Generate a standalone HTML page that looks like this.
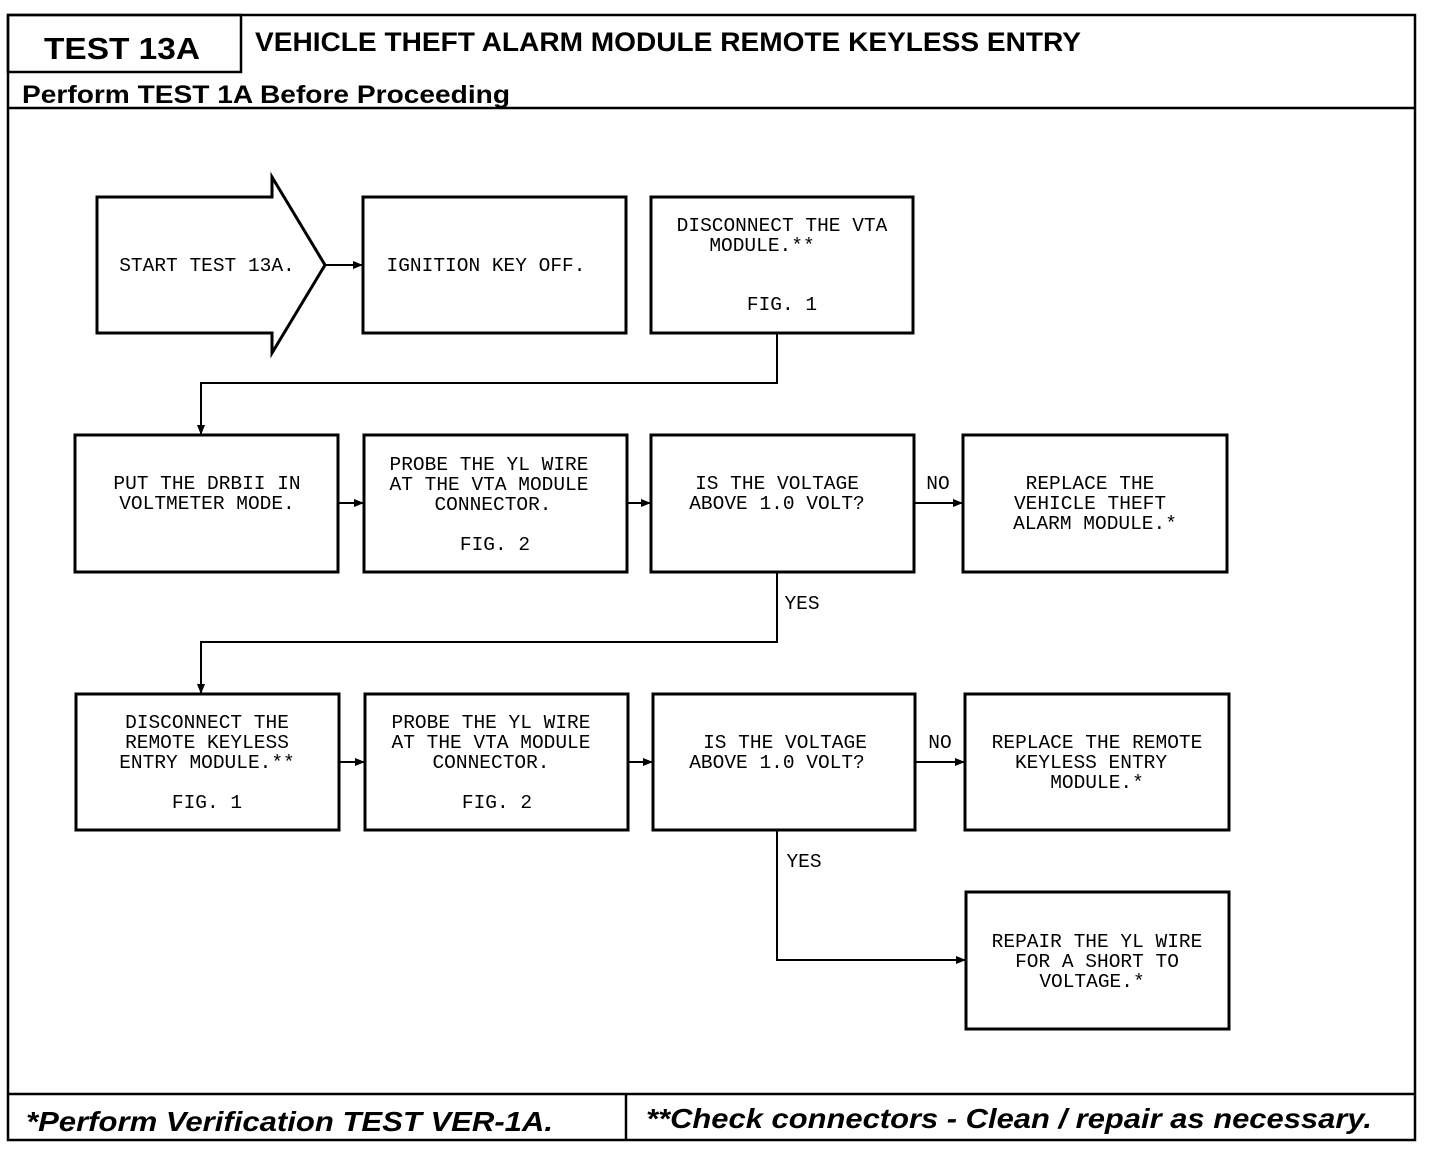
<!DOCTYPE html>
<html><head><meta charset="utf-8"><style>
html,body{margin:0;padding:0;background:#fff;}
svg{display:block;}
.t{font-family:"Liberation Mono",monospace;font-size:19.5px;fill:#000;text-anchor:middle;}
.h{font-family:"Liberation Sans",sans-serif;font-weight:bold;fill:#000;}
</style></head><body>
<svg width="1440" height="1156" viewBox="0 0 1440 1156" xmlns="http://www.w3.org/2000/svg">
<defs><marker id="a" markerWidth="10" markerHeight="10" refX="9" refY="5" orient="auto" markerUnits="userSpaceOnUse"><path d="M0,1 L10,5 L0,9 Z" fill="#000"/></marker></defs>
<g fill="none" stroke="#000" stroke-width="2.5">
<rect x="8" y="15" width="1407" height="1125"/>
<rect x="8" y="15" width="233" height="57"/>
<line x1="8" y1="108" x2="1415" y2="108"/>
<line x1="8" y1="1094" x2="1415" y2="1094"/>
<line x1="626" y1="1094" x2="626" y2="1140"/>
<path d="M97,197 H272 V177 L325,265 L272,353 V333 H97 Z" stroke-width="3"/>
<rect x="363" y="197" width="263" height="136" stroke-width="3"/>
<rect x="651" y="197" width="262" height="136" stroke-width="3"/>
<rect x="75" y="435" width="263" height="137" stroke-width="3"/>
<rect x="364" y="435" width="263" height="137" stroke-width="3"/>
<rect x="651" y="435" width="263" height="137" stroke-width="3"/>
<rect x="963" y="435" width="264" height="137" stroke-width="3"/>
<rect x="76" y="694" width="263" height="136" stroke-width="3"/>
<rect x="365" y="694" width="263" height="136" stroke-width="3"/>
<rect x="653" y="694" width="262" height="136" stroke-width="3"/>
<rect x="965" y="694" width="264" height="136" stroke-width="3"/>
<rect x="966" y="892" width="263" height="137" stroke-width="3"/>
<g stroke-width="2">
<line x1="325" y1="265" x2="362" y2="265" marker-end="url(#a)"/>
<polyline points="777,333 777,383 201,383 201,434" marker-end="url(#a)"/>
<line x1="338" y1="503" x2="363" y2="503" marker-end="url(#a)"/>
<line x1="627" y1="503" x2="650" y2="503" marker-end="url(#a)"/>
<line x1="914" y1="503" x2="962" y2="503" marker-end="url(#a)"/>
<polyline points="777,572 777,642 201,642 201,693" marker-end="url(#a)"/>
<line x1="339" y1="762" x2="364" y2="762" marker-end="url(#a)"/>
<line x1="628" y1="762" x2="652" y2="762" marker-end="url(#a)"/>
<line x1="915" y1="762" x2="964" y2="762" marker-end="url(#a)"/>
<polyline points="777,830 777,960 965,960" marker-end="url(#a)"/>
</g></g>
<text class="h" x="44" y="59" font-size="31" textLength="156" lengthAdjust="spacingAndGlyphs">TEST 13A</text>
<text class="h" x="255" y="51" font-size="27" textLength="826" lengthAdjust="spacingAndGlyphs">VEHICLE THEFT ALARM MODULE REMOTE KEYLESS ENTRY</text>
<text class="h" x="22" y="103" font-size="25" textLength="488" lengthAdjust="spacingAndGlyphs">Perform TEST 1A Before Proceeding</text>
<text class="h" x="26" y="1131" font-size="28" font-style="italic" textLength="527" lengthAdjust="spacingAndGlyphs">*Perform Verification TEST VER-1A.</text>
<text class="h" x="646" y="1128" font-size="28" font-style="italic" textLength="726" lengthAdjust="spacingAndGlyphs">**Check connectors - Clean / repair as necessary.</text>
<text class="t" x="207" y="271">START TEST 13A.</text>
<text class="t" x="486" y="271">IGNITION KEY OFF.</text>
<text class="t" x="782" y="231">DISCONNECT THE VTA</text>
<text class="t" x="762" y="251">MODULE.**</text>
<text class="t" x="782" y="310">FIG. 1</text>
<text class="t" x="207" y="489">PUT THE DRBII IN</text>
<text class="t" x="207" y="509">VOLTMETER MODE.</text>
<text class="t" x="489" y="470">PROBE THE YL WIRE</text>
<text class="t" x="489" y="490">AT THE VTA MODULE</text>
<text class="t" x="493" y="510">CONNECTOR.</text>
<text class="t" x="495" y="550">FIG. 2</text>
<text class="t" x="777" y="489">IS THE VOLTAGE</text>
<text class="t" x="777" y="509">ABOVE 1.0 VOLT?</text>
<text class="t" x="1090" y="489">REPLACE THE</text>
<text class="t" x="1090" y="509">VEHICLE THEFT</text>
<text class="t" x="1095" y="529">ALARM MODULE.*</text>
<text class="t" x="938" y="489">NO</text>
<text class="t" x="802" y="609">YES</text>
<text class="t" x="207" y="728">DISCONNECT THE</text>
<text class="t" x="207" y="748">REMOTE KEYLESS</text>
<text class="t" x="207" y="768">ENTRY MODULE.**</text>
<text class="t" x="207" y="808">FIG. 1</text>
<text class="t" x="491" y="728">PROBE THE YL WIRE</text>
<text class="t" x="491" y="748">AT THE VTA MODULE</text>
<text class="t" x="491" y="768">CONNECTOR.</text>
<text class="t" x="497" y="808">FIG. 2</text>
<text class="t" x="785" y="748">IS THE VOLTAGE</text>
<text class="t" x="777" y="768">ABOVE 1.0 VOLT?</text>
<text class="t" x="940" y="748">NO</text>
<text class="t" x="1097" y="748">REPLACE THE REMOTE</text>
<text class="t" x="1091" y="768">KEYLESS ENTRY</text>
<text class="t" x="1097" y="788">MODULE.*</text>
<text class="t" x="804" y="867">YES</text>
<text class="t" x="1097" y="947">REPAIR THE YL WIRE</text>
<text class="t" x="1097" y="967">FOR A SHORT TO</text>
<text class="t" x="1092" y="987">VOLTAGE.*</text>
</svg>
</body></html>
